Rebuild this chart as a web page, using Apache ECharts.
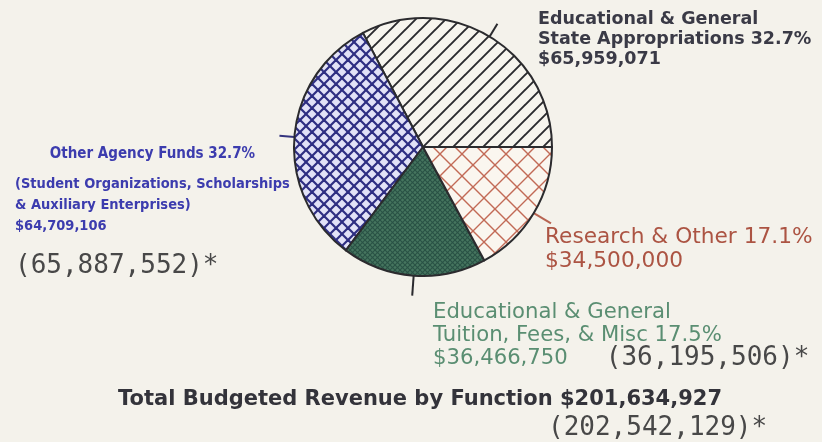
<!DOCTYPE html>
<html>
<head>
<meta charset="utf-8">
<script src="https://cdn.jsdelivr.net/npm/echarts@6/dist/echarts.min.js"></script>
<style>
  html, body { margin: 0; padding: 0; background: #f4f2eb; }
  #chart { width: 822px; height: 442px; }
</style>
</head>
<body>
<div id="chart"></div>
<script>
// Budgeted revenue by function
const categoryTitles = [
  ['Educational & General', 'State Appropriations'],
  ['Other Agency Funds'],
  ['Educational & General', 'Tuition, Fees, & Misc'],
  ['Research & Other']
];
const categoryNotes = ['', '(Student Organizations, Scholarships\n& Auxiliary Enterprises)', '', ''];
const amounts = [65959071, 64709106, 36466750, 34500000];
const shownPercents = ['32.7', '32.7', '17.5', '17.1'];
const priorAmounts = [null, 65887552, 36195506, null];
const totalAmount = 201634927;
const priorTotal = 202542129;

const fmt = v => v.toLocaleString('en-US');

// hatch tiles used as slice fills
function hatch(size, bg, color, width, dirs) {
  const c = document.createElement('canvas');
  c.width = size; c.height = size;
  const g = c.getContext('2d');
  g.fillStyle = bg; g.fillRect(0, 0, size, size);
  g.strokeStyle = color; g.lineWidth = width; g.lineCap = 'square';
  for (const d of dirs) {
    for (let k = -1; k <= 1; k++) {
      g.beginPath();
      if (d === '/') { g.moveTo(k * size, size); g.lineTo(k * size + size, 0); }
      else { g.moveTo(k * size, 0); g.lineTo(k * size + size, size); }
      g.stroke();
    }
  }
  return { image: c, repeat: 'repeat' };
}

const fills = [
  hatch(15, '#f7f5ee', '#2a2a2e', 1.9, ['/']),
  hatch(12, '#e2e2f7', '#2e2e82', 2.2, ['/', '\\']),
  hatch(5, '#46755f', '#2a5246', 1.1, ['/', '\\']),
  hatch(22, '#faf6ef', '#c26a56', 1.4, ['/', '\\'])
];
const tickColors = ['#2a2a2e', '#34347e', '#2a2a2e', '#b86452'];
const tickLengths = [15, 15, 20, 20];
// label box top-left corners
const labelSpots = [[538, 9], [15, 134], [433, 301], [545, 225]];

function labelText(i) {
  const t = categoryTitles[i];
  const pct = shownPercents[i] + '%';
  const amt = '$' + fmt(amounts[i]);
  if (i === 0) return `{b|${t[0]}}\n{b|${t[1]} ${pct}}\n{b|${amt}}`;
  if (i === 1) {
    const notes = categoryNotes[i].split('\n').map(s => `{n|${s}}`).join('\n');
    return `{h|${t[0]} ${pct}}\n${notes}\n{n|${amt}}\n{m|(${fmt(priorAmounts[i])})*}`;
  }
  if (i === 2) return `{g|${t[0]}}\n{g|${t[1]} ${pct}}\n{gs|${amt}}{mg|(${fmt(priorAmounts[i])})*}`;
  return `{r|${t[0]} ${pct}}\n{r|${amt}}`;
}

const mono = "'DejaVu Sans Mono', monospace";
const narrow = "'Liberation Sans Narrow', 'DejaVu Sans Condensed', sans-serif";
const rich = {
  b: { fontFamily: 'DejaVu Sans', fontWeight: 'bold', fontSize: 17.5, color: '#3a3a46', lineHeight: 20 },
  h: { fontFamily: narrow, fontWeight: 'bold', fontSize: 15, color: '#3c3cae', lineHeight: 40, align: 'center' },
  n: { fontFamily: narrow, fontWeight: 'bold', fontSize: 14.5, color: '#3c3cae', lineHeight: 21 },
  m: { fontFamily: mono, fontSize: 26, color: '#484848', lineHeight: 58 },
  mg: { fontFamily: mono, fontSize: 26, color: '#484848', lineHeight: 23, padding: [0, 0, 0, 38] },
  g: { fontFamily: 'DejaVu Sans', fontSize: 21.2, color: '#5a8e72', lineHeight: 23 },
  gs: { fontFamily: 'DejaVu Sans', fontSize: 21.2, color: '#5a8e72', lineHeight: 23 },
  r: { fontFamily: 'DejaVu Sans', fontSize: 21.7, color: '#ac5443', lineHeight: 24 }
};

const chart = echarts.init(document.getElementById('chart'), null, { renderer: 'canvas' });
chart.setOption({
  backgroundColor: '#f4f2eb',
  animation: false,
  title: [
    {
      text: 'Total Budgeted Revenue by Function $' + fmt(totalAmount),
      left: 113, top: 384,
      textStyle: { fontFamily: 'DejaVu Sans', fontWeight: 'bold', fontSize: 21, color: '#33333a' }
    },
    {
      text: '(' + fmt(priorTotal) + ')*',
      left: 543, top: 410,
      textStyle: { fontFamily: mono, fontWeight: 'normal', fontSize: 26, color: '#484848' }
    }
  ],
  series: [{
    type: 'pie',
    center: [423, 147],
    radius: 129,
    startAngle: 0,
    clockwise: false,
    avoidLabelOverlap: false,
    silent: true,
    itemStyle: { borderColor: '#2b2b2e', borderWidth: 2 },
    label: { show: true, position: 'outside', formatter: p => labelText(p.dataIndex), rich: rich },
    labelLine: { show: true, length: 15, length2: 0, lineStyle: { width: 2 } },
    labelLayout: function (params) {
      const s = labelSpots[params.dataIndex];
      const out = { x: s[0], y: s[1], align: 'left', verticalAlign: 'top' };
      if (params.labelLinePoints) out.labelLinePoints = params.labelLinePoints;
      return out;
    },
    data: amounts.map((v, i) => ({
      value: v,
      name: categoryTitles[i].join(' '),
      itemStyle: { color: fills[i] },
      labelLine: { length: tickLengths[i], lineStyle: { color: tickColors[i] } }
    }))
  }]
});
</script>
</body>
</html>
